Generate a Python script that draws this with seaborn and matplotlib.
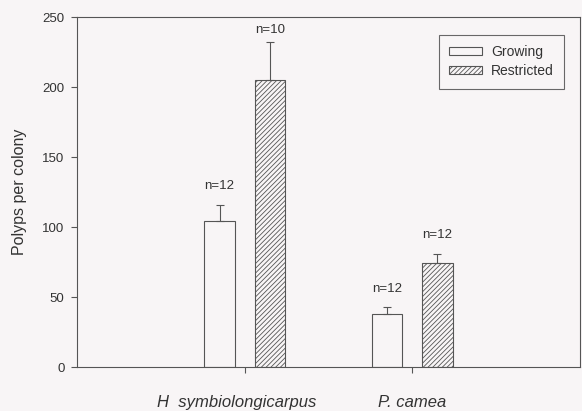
import matplotlib
matplotlib.use("Agg")
import matplotlib.pyplot as plt
import matplotlib.transforms as mtransforms
from matplotlib.patches import Patch
import pandas as pd
import seaborn as sns

# Mean polyp counts per colony and their standard errors
species = ["H  symbiolongicarpus", "P. camea"]
conditions = ["Growing", "Restricted"]
growing_mean = [104.5, 38.0]
growing_se = [11.5, 5.0]
restricted_mean = [205.0, 74.0]
restricted_se = [27.5, 7.0]
growing_n = ["n=12", "n=12"]
restricted_n = ["n=10", "n=12"]
y_ticks = [0, 50, 100, 150, 200, 250]

df = pd.DataFrame({
    "species": species * 2,
    "condition": [conditions[0]] * 2 + [conditions[1]] * 2,
    "polyps": growing_mean + restricted_mean,
})
errors = {conditions[0]: growing_se, conditions[1]: restricted_se}
n_text = {conditions[0]: growing_n, conditions[1]: restricted_n}

sns.set_theme(style="ticks")
plt.rcParams["font.family"] = ["Liberation Sans", "DejaVu Sans"]
plt.rcParams["hatch.linewidth"] = 0.6
plt.rcParams["hatch.color"] = "#555555"

bg = "#f8f5f6"
ink = "#333333"
line = "#555555"

fig = plt.figure(figsize=(5.82, 4.11), dpi=100, facecolor=bg)
ax = fig.add_axes([0.1323, 0.107, 0.8643, 0.8516], facecolor=bg)

sns.barplot(data=df, x="species", y="polyps", hue="condition",
            order=species, hue_order=conditions, errorbar=None,
            width=0.6, gap=0.4, ax=ax, legend=False,
            palette=[bg, bg], edgecolor=line, linewidth=0.8)

hatches = {conditions[0]: "", conditions[1]: "///////"}
for cond, container in zip(conditions, ax.containers):
    for i, bar in enumerate(container):
        bar.set_hatch(hatches[cond])
        bar.set_facecolor(bg)
        bar.set_edgecolor(line)
        xc = bar.get_x() + bar.get_width() / 2
        top = bar.get_height()
        se = errors[cond][i]
        ax.errorbar([xc], [top], yerr=[[0], [se]], fmt="none",
                    ecolor=line, elinewidth=0.8, capsize=3, capthick=0.8)
        ax.text(xc, min(top + se + 13, 241), n_text[cond][i],
                ha="center", va="center", fontsize=9.5, color=ink)

ax.set_xlim(-1, 2)
ax.set_ylim(0, 250)
ax.set_yticks(y_ticks)
ax.set_xlabel("")
ax.set_ylabel("Polyps per colony", fontsize=11.5, color=ink)
ax.yaxis.set_label_coords(-0.099, 0.5)

for side in ["top", "right", "bottom", "left"]:
    ax.spines[side].set_visible(True)
    ax.spines[side].set_color(line)
    ax.spines[side].set_linewidth(0.8)

ax.tick_params(axis="y", direction="out", length=4, width=0.8, color=line,
               labelsize=9.5, labelcolor=ink, pad=5)
ax.tick_params(axis="x", direction="out", length=4, width=0.8, color=line,
               labelsize=12, labelcolor=ink, pad=16)
xlabels = ax.get_xticklabels()
for lbl in xlabels:
    lbl.set_fontstyle("italic")
# the long species name sits a little left of its tick
xlabels[0].set_transform(xlabels[0].get_transform() +
                         mtransforms.ScaledTranslation(-0.08, 0, fig.dpi_scale_trans))

handles = [
    Patch(facecolor=bg, edgecolor=line, linewidth=0.8, label=conditions[0]),
    Patch(facecolor=bg, edgecolor=line, linewidth=0.8, hatch="///////",
          label=conditions[1]),
]
leg = ax.legend(handles=handles, loc="upper right", bbox_to_anchor=(0.968, 0.949),
                borderaxespad=0, fontsize=10, frameon=True, fancybox=False,
                handlelength=2.4, handleheight=0.5, handletextpad=0.6,
                borderpad=0.75, labelspacing=0.35)
leg.get_frame().set_edgecolor("#444444")
leg.get_frame().set_linewidth(0.8)
leg.get_frame().set_facecolor(bg)
for t in leg.get_texts():
    t.set_color(ink)

fig.savefig("out.png", dpi=100, facecolor=bg)
